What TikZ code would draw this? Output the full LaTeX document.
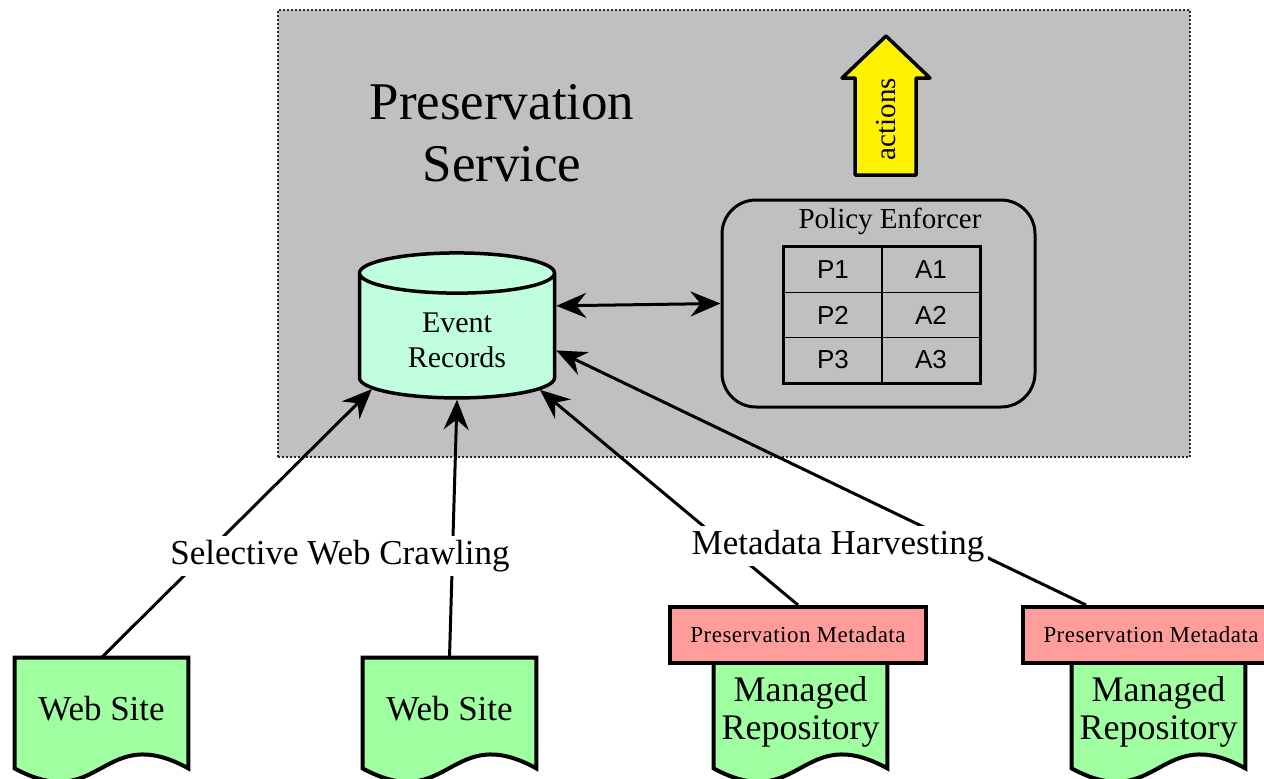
\documentclass[tikz,border=0pt]{standalone}
\usepackage{fontspec}
\setmainfont{Liberation Serif}
\newfontfamily\tabfont{Liberation Sans}
\usetikzlibrary{arrows.meta,positioning,calc,shapes.geometric,backgrounds}
\definecolor{svcgray}{HTML}{C0C0C0}
\definecolor{storemint}{HTML}{BFFFDF}
\definecolor{docgreen}{HTML}{A0FFA0}
\definecolor{metapink}{HTML}{FF9C9C}

%% document outline with a wavy bottom, drawn behind the named node
\newcommand\docshape[1]{%
  \filldraw[docline] (#1.south west) -- (#1.north west) -- (#1.north east) -- (#1.south east)
    .. controls ($(#1.south)+(0,-48)$) and ($(#1.south)+(0,47)$) .. (#1.south west) -- cycle;}

\begin{document}
\begin{tikzpicture}[x=0.5pt,y=-0.5pt,
  svcbox/.style={rectangle,fill=svcgray,draw=black!85,line width=1pt,dash pattern=on 1pt off 1pt},
  title/.style={align=center,font=\fontsize{26.5}{31}\selectfont},
  store/.style={cylinder,shape border rotate=90,aspect=0.36,draw=black,line width=1.75pt,fill=storemint,
    minimum width=97.5pt,minimum height=72.5pt,align=center,font=\fontsize{15}{17.5}\selectfont},
  policy/.style={rectangle,rounded corners=17pt,draw=black,line width=1.5pt,minimum width=156.5pt,minimum height=103.5pt},
  cell/.style={rectangle,draw=black,line width=0.75pt,minimum width=49pt,minimum height=22.5pt,inner sep=0,
    font=\tabfont\fontsize{13}{15}\selectfont},
  tabframe/.style={line width=1.5pt},
  actfill/.style={draw=black,line width=1.75pt,fill=yellow,line join=round},
  docnode/.style={rectangle,minimum width=86.5pt,inner sep=0,align=center},
  docline/.style={draw=black,line width=2pt,fill=docgreen},
  meta/.style={rectangle,draw=black,line width=2pt,fill=metapink,minimum width=128pt,minimum height=28pt,
    font=\fontsize{11.5}{13}\selectfont\addfontfeatures{LetterSpace=2}},
  conn/.style={line width=1.5pt,-{Stealth[length=15pt,width=12.5pt,inset=5pt]}},
  dblconn/.style={line width=1.5pt,{Stealth[length=15pt,width=12.5pt,inset=5pt]}-{Stealth[length=15pt,width=12.5pt,inset=5pt]}},
  lbl/.style={fill=white,inner sep=2pt,font=\fontsize{17.5}{20}\selectfont}]

\useasboundingbox (0,0) rectangle (1264,778);

%% preservation service area
\node[svcbox,minimum width=456pt,minimum height=223.5pt] (svc) at (734,233.5) {};
\node[title] (svctitle) at (502,133) {Preservation\\Service};

%% event store and policy enforcer
\node[store] (store) at (457,340) {Event\\Records};
\node[policy] (pol) at (878.5,303.5) {};
\node[font=\fontsize{14.5}{16}\selectfont] (poltitle) at (890,221) {Policy Enforcer};
\foreach \r/\y in {1/270,2/315,3/360}{
  \node[cell] (p\r) at (833,\y) {P\r};
  \node[cell] (a\r) at (931,\y) {A\r};
}
\draw[tabframe] (p1.north west) rectangle (a3.south east);

%% actions
\filldraw[actfill] (886,36) -- (930,78) -- (916,78) -- (916,175) -- (855,175) -- (855,78) -- (842,78) -- cycle;
\node[rotate=90,font=\fontsize{14.5}{16}\selectfont] (act) at (886,119) {actions};

%% sources
\node[docnode,minimum height=55pt,text depth=5pt,font=\fontsize{17.5}{20}\selectfont] (web1) at (101.5,713) {Web Site};
\node[docnode,minimum height=55pt,text depth=5pt,font=\fontsize{17.5}{20}\selectfont] (web2) at (449.5,713) {Web Site};
\node[docnode,minimum height=52.5pt,text depth=8pt,font=\fontsize{18}{19}\selectfont] (repo1) at (800.5,715.5) {Managed\\Repository};
\node[docnode,minimum height=52.5pt,text depth=8pt,font=\fontsize{18}{19}\selectfont] (repo2) at (1158.5,715.5) {Managed\\Repository};
\begin{scope}[on background layer]
  \docshape{web1}
  \docshape{web2}
  \docshape{repo1}
  \docshape{repo2}
\end{scope}
\node[meta] (pmeta1) at (798,635) {Preservation Metadata};
\node[meta] (pmeta2) at (1151,635) {Preservation Metadata};

%% connectors
\draw[conn] (web1.north) -- (store.210);
\draw[conn] (web2.north) -- (store.270);
\draw[conn] (pmeta1.north) -- (store.329);
\draw[conn] ([xshift=32.5pt]pmeta2.north west) -- (store.354);
\draw[dblconn] (store.19) -- (pol.west);

%% connector labels
\node[lbl] (crawl) at (340,556) {Selective Web Crawling};
\node[lbl] (harvest) at (838,546) {Metadata Harvesting};
\end{tikzpicture}
\end{document}
